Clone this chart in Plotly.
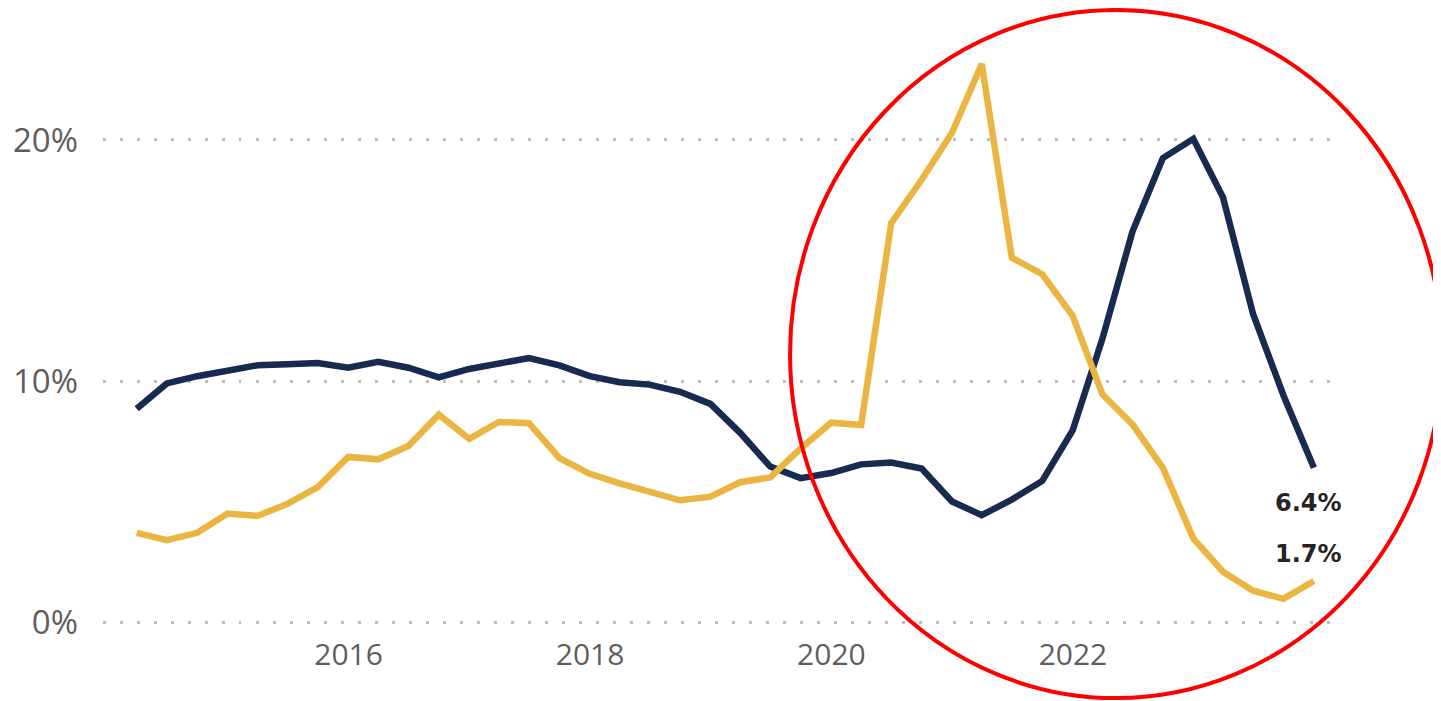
import pandas as pd
import plotly.graph_objects as go

# Quarterly dates (quarter ends) 2014 Q1 .. 2023 Q4
dates = pd.date_range("2014-03-31", periods=40, freq="QE")

navy_values = [8.85, 9.9, 10.2, 10.45, 10.65, 10.7, 10.75, 10.55, 10.8, 10.55,
               10.15, 10.5, 10.7, 10.95, 10.65, 10.2, 9.95, 9.85, 9.55, 9.05,
               7.85, 6.45, 5.97, 6.18, 6.54, 6.62, 6.37, 5.0, 4.43, 5.08,
               5.85, 7.95, 11.75, 16.2, 19.25, 20.05, 17.62, 12.78, 9.4, 6.4]

gold_values = [3.7, 3.4, 3.7, 4.5, 4.4, 4.9, 5.6, 6.85, 6.75, 7.3,
               8.6, 7.6, 8.3, 8.25, 6.8, 6.15, 5.75, 5.4, 5.05, 5.2,
               5.8, 6.0, 7.2, 8.27, 8.17, 16.55, 18.35, 20.3, 23.15, 15.12,
               14.43, 12.7, 9.45, 8.2, 6.4, 3.47, 2.09, 1.3, 0.96, 1.7]

y_tickvals = [0, 10, 20]
y_ticktext = ["0%", "10%", "20%"]
x_tickvals = ["2016-01-01", "2018-01-01", "2020-01-01", "2022-01-01"]
x_ticktext = ["2016", "2018", "2020", "2022"]

NAVY = "#172A4F"
GOLD = "#EAB540"

fig = go.Figure()
fig.add_trace(go.Scatter(x=dates, y=navy_values, mode="lines",
                         line=dict(color=NAVY, width=6.5), hoverinfo="skip"))
fig.add_trace(go.Scatter(x=dates, y=gold_values, mode="lines",
                         line=dict(color=GOLD, width=6.5), hoverinfo="skip"))

label_font = dict(family="DejaVu Sans", size=24, color="#252423")
fig.add_annotation(x=dates[-1], y=navy_values[-1], xref="x", yref="y",
                   text="<b>%.1f%%</b>" % navy_values[-1], showarrow=False,
                   font=label_font, xshift=-5, yshift=-35)
fig.add_annotation(x=dates[-1], y=gold_values[-1], xref="x", yref="y",
                   text="<b>%.1f%%</b>" % gold_values[-1], showarrow=False,
                   font=label_font, xshift=-5, yshift=27)

# red highlight ellipse
fig.add_shape(type="circle", xref="paper", yref="paper",
              x0=0.5554, x1=1.0825, y0=-0.121, y1=1.0336,
              line=dict(color="#FF0000", width=4), layer="above")

# page body adds an 8px offset; figure is sized/margined to compensate
fig.update_layout(
    width=1433, height=693,
    margin=dict(l=95, r=101, t=22, b=75, autoexpand=False),
    paper_bgcolor="white", plot_bgcolor="white",
    showlegend=False,
    font=dict(family="Open Sans", color="#605E5C"),
)
fig.update_xaxes(
    range=["2013-12-19", "2024-03-19"],
    tickvals=x_tickvals, ticktext=x_ticktext,
    tickfont=dict(family="Open Sans", size=30, color="#605E5C"),
    showgrid=False, zeroline=False, showline=False, ticks="",
    ticklabelstandoff=8, automargin=False,
)
fig.update_yaxes(
    range=[-0.166, 24.564],
    tickvals=y_tickvals, ticktext=y_ticktext,
    tickfont=dict(family="Open Sans", size=33, color="#605E5C"),
    showgrid=True, gridcolor="#BDBDBD", gridwidth=2.5, griddash="2.5px,14.5px",
    zeroline=False, showline=False, ticks="",
    ticklabelstandoff=24, automargin=False,
)

fig.write_html("out.html")
